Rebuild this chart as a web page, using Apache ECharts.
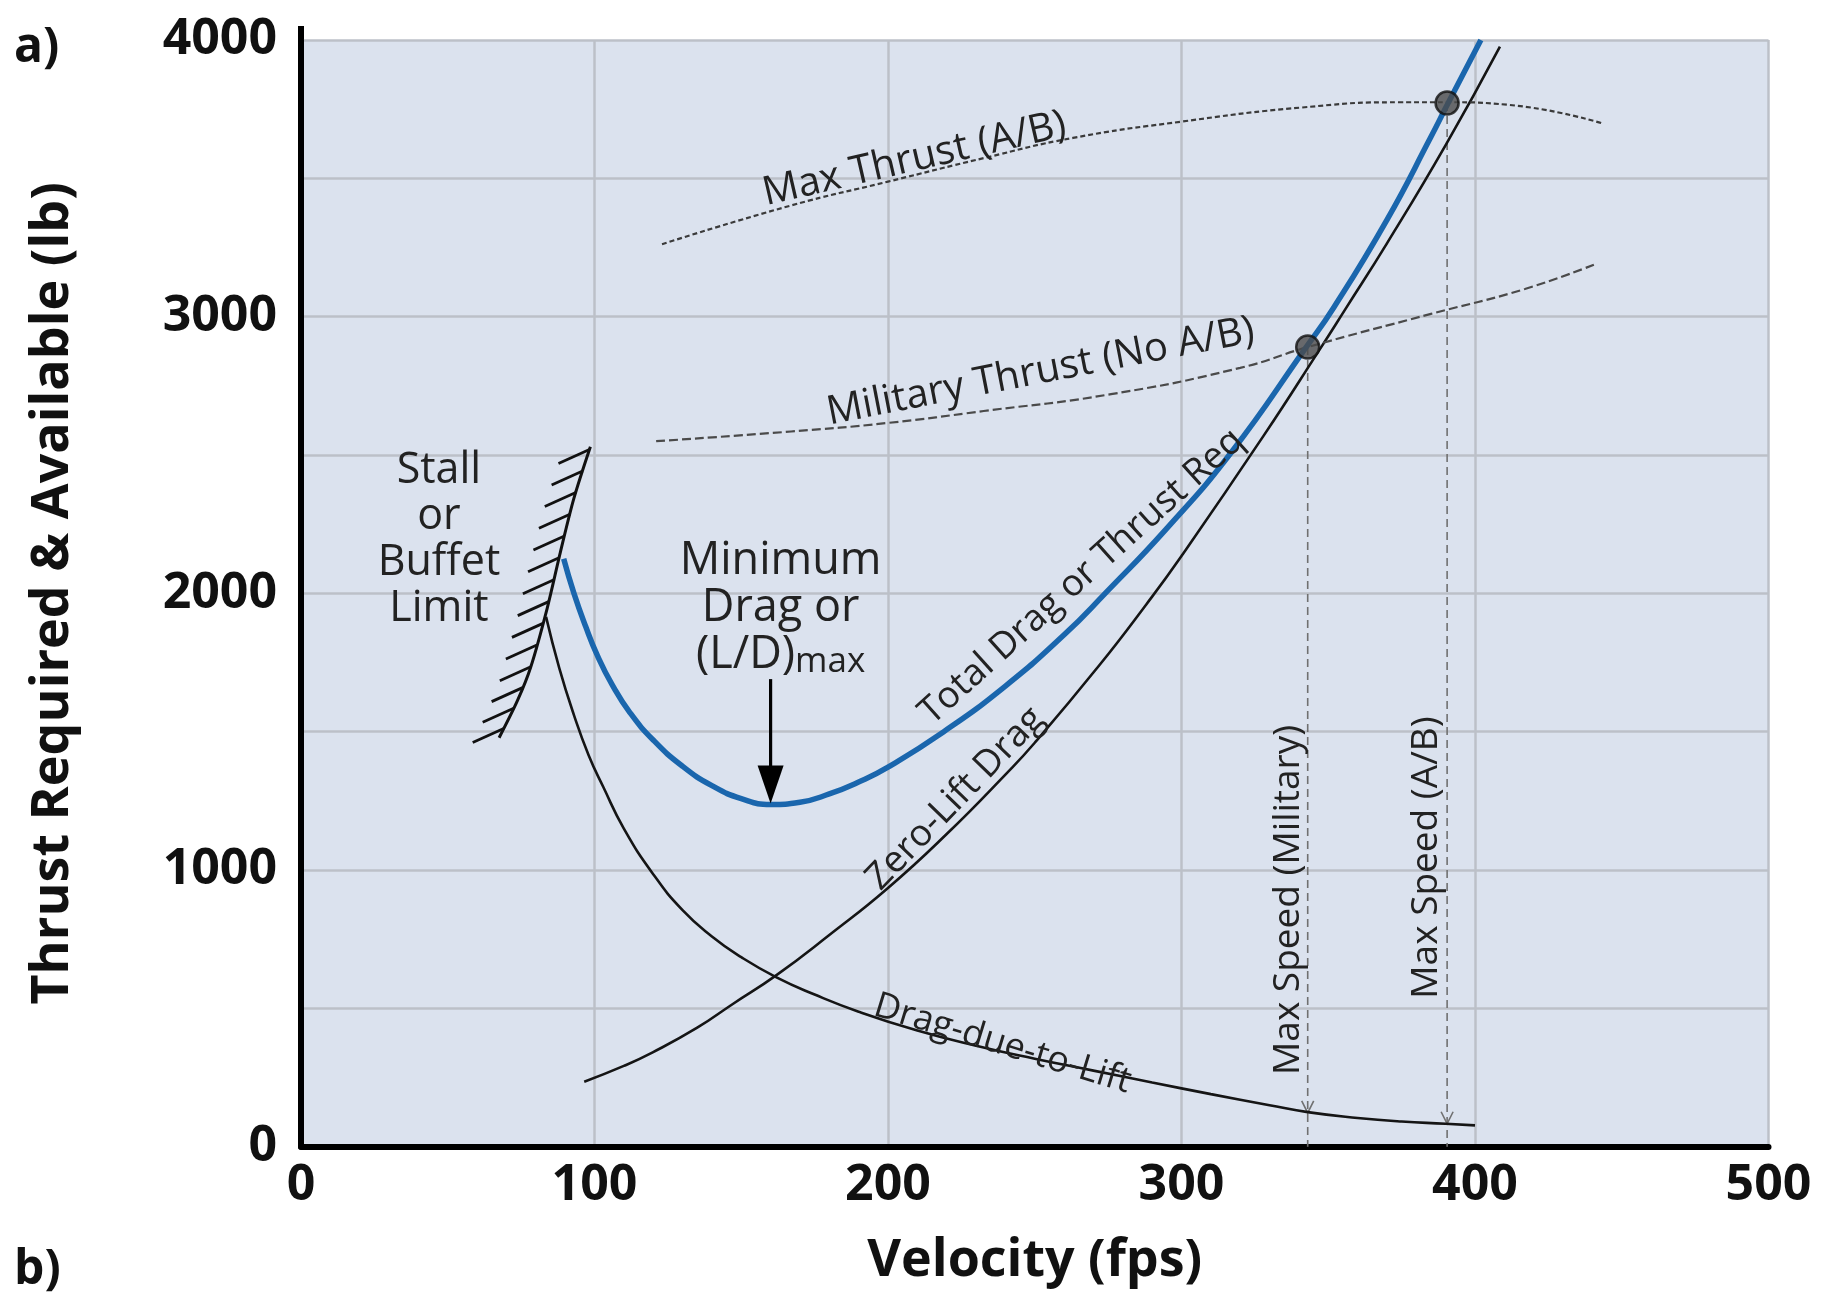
<!DOCTYPE html>
<html><head><meta charset="utf-8">
<script src="https://cdn.jsdelivr.net/npm/echarts@6/dist/echarts.min.js"></script>
<style>html,body{margin:0;padding:0;background:#fff;}#c{width:1821px;height:1293px;}</style>
</head><body><div id="c"></div>
<script>
// ---- data (velocity fps, thrust lb) ----
const totalDragV = [89.5, 93, 97, 101, 106, 112, 120, 130, 140, 150, 160, 170, 180, 190, 200, 219, 240, 260, 274, 295, 317, 342.5, 352, 370, 385, 390.5, 402];
const totalDragT = [2125, 2000, 1880, 1775, 1670, 1570, 1470, 1375, 1305, 1258, 1237, 1245, 1275, 1318, 1372, 1500, 1665, 1850, 2000, 2235, 2510, 2890, 3035, 3350, 3650, 3765, 4000];
const zeroLiftV = [96.5, 110, 120, 135, 147, 162, 180, 200, 220, 240, 250, 272, 288, 300, 328, 347, 356, 370, 390, 408.5];
const zeroLiftT = [235, 292, 342, 430, 515, 620, 765, 935, 1130, 1345, 1460, 1740, 1960, 2135, 2570, 2880, 3030, 3265, 3620, 3976];
const ddlV = [83.5, 88, 93, 98, 103, 110, 120, 130, 140, 150, 162, 175, 190, 210, 230, 250, 270, 290, 310, 330, 343, 360, 375, 390, 400];
const ddlT = [1915, 1730, 1560, 1415, 1300, 1150, 985, 855, 760, 685, 612, 550, 488, 420, 365, 318, 275, 232, 190, 150, 125, 104, 91, 83, 77];
const maxThrustV = [123, 167, 200, 232.6, 263, 300, 341, 374, 391, 411, 443];
const maxThrustT = [3262, 3402, 3488, 3573, 3646, 3705, 3756, 3775, 3775, 3766, 3700];
const milThrustV = [121, 167, 200, 232.6, 276, 320, 343, 385, 417, 441];
const milThrustT = [2550, 2585, 2616, 2659, 2720, 2815, 2890, 3010, 3100, 3190];
const stallV = [67.5, 73.7, 78.2, 83.9, 88.4, 93, 98.6];
const stallT = [1478, 1611, 1731, 1947, 2150, 2344, 2530];
const maxSpeedV = [343, 390.5];        // Military, A/B
const maxSpeedThrust = [2890, 3772];   // intersection points
const maxSpeedDdl = [122, 83];         // drag-due-to-lift at those speeds
const minDragV = 160;
const minDragArrowT = [1690, 1240];
const xTicks = [0, 100, 200, 300, 400, 500];
const yTickLabels = [0, 1000, 2000, 3000, 4000];

const labelText = ['Max Thrust (A/B)', 'Military Thrust (No A/B)', 'Total Drag or Thrust Req', 'Zero-Lift Drag', 'Drag-due-to-Lift', 'Max Speed (Military)', 'Max Speed (A/B)'];
const labelV = [209, 252, 266, 223, 239, 336.4, 383.5];
const labelT = [3569, 2801, 2060, 1258, 371, 892, 1045];
const labelAngle = [13, 11, 42, 46, -17, 90, 90];
const labelSize = [40, 40, 37, 37, 36, 37, 37];

const FONT = '"Open Sans", "Noto Sans", sans-serif';
const zip = (a, b) => a.map((v, i) => [v, b[i]]);
const chart = echarts.init(document.getElementById('c'));

function lineSeries(name, v, t, color, width, dash, z) {
  return {
    name, type: 'line', data: zip(v, t), smooth: 0.5, symbol: 'none', z: z || 5,
    lineStyle: { color, width, type: dash || 'solid' }, silent: true
  };
}

const option = {
  animation: false,
  backgroundColor: '#ffffff',
  grid: { left: 301, right: 52.5, top: 40, bottom: 146.3, show: true, backgroundColor: '#dbe2ee', borderWidth: 0, outerBoundsMode: 'none' },
  xAxis: {
    type: 'value', min: 0, max: 500, interval: 100,
    name: 'Velocity (fps)', nameLocation: 'middle', nameGap: 88,
    nameTextStyle: { fontFamily: FONT, fontWeight: 'bold', fontSize: 52, color: '#111' },
    axisLine: { show: true, onZero: false, lineStyle: { color: '#000', width: 6 } },
    axisTick: { show: false },
    splitLine: { show: true, lineStyle: { color: '#bcc0c8', width: 2.5 } },
    axisLabel: { margin: 14, fontFamily: FONT, fontWeight: 'bold', fontSize: 50, color: '#111',
      formatter: v => xTicks.includes(v) ? String(v) : '' }
  },
  yAxis: {
    type: 'value', min: 0, max: 4000, interval: 500,
    name: 'Thrust Required & Available (lb)', nameLocation: 'middle', nameGap: 222,
    nameTextStyle: { fontFamily: FONT, fontWeight: 'bold', fontSize: 52, color: '#111' },
    axisLine: { show: true, onZero: false, lineStyle: { color: '#000', width: 6 } },
    axisTick: { show: false },
    splitLine: { show: true, lineStyle: { color: '#bcc0c8', width: 2.5 } },
    axisLabel: { margin: 24, fontFamily: FONT, fontWeight: 'bold', fontSize: 50, color: '#111', padding: [0, 0, 12, 0],
      formatter: v => yTickLabels.includes(v) ? String(v) : '' }
  },
  graphic: [
    { type: 'text', left: 14, top: 24, style: { text: 'a)', fontFamily: FONT, fontWeight: 'bold', fontSize: 48, fill: '#111' } },
    { type: 'text', left: 14, top: 1246, style: { text: 'b)', fontFamily: FONT, fontWeight: 'bold', fontSize: 48, fill: '#111' } },
    { type: 'line', shape: { x1: 301, y1: 26, x2: 301, y2: 42 }, style: { stroke: '#000', lineWidth: 6 } }
  ],
  series: [
    lineSeries('Zero-Lift Drag', zeroLiftV, zeroLiftT, '#151515', 2.6),
    lineSeries('Drag-due-to-Lift', ddlV, ddlT, '#151515', 2.6),
    lineSeries('Max Thrust (A/B)', maxThrustV, maxThrustT, '#3a3a3a', 2.2, [5, 3]),
    lineSeries('Military Thrust', milThrustV, milThrustT, '#4a4a4a', 2.2, [9, 4]),
    lineSeries('Total Drag', totalDragV, totalDragT, '#1a66ad', 5.5, null, 6),
    { // max speed verticals
      type: 'custom', coordinateSystem: 'cartesian2d', silent: true, z: 4,
      data: maxSpeedV.map((v, i) => [v, maxSpeedThrust[i]]),
      renderItem: (params, api) => {
        const i = params.dataIndex;
        const top = api.coord([maxSpeedV[i], maxSpeedThrust[i]]);
        const bot = api.coord([maxSpeedV[i], 0]);
        const mid = api.coord([maxSpeedV[i], maxSpeedDdl[i]]);
        return { type: 'group', children: [
          { type: 'line', shape: { x1: top[0], y1: top[1], x2: bot[0], y2: bot[1] },
            style: { stroke: '#707070', lineWidth: 1.6, lineDash: [8, 5] } },
          { type: 'polyline', shape: { points: [[mid[0] - 6, mid[1] - 12], [mid[0], mid[1]], [mid[0] + 6, mid[1] - 12]] },
            style: { stroke: '#707070', lineWidth: 1.6, fill: null } }
        ] };
      }
    },
    { // intersection dots
      type: 'scatter', data: zip(maxSpeedV, maxSpeedThrust), symbolSize: 23, z: 10, silent: true,
      itemStyle: { color: '#4b4b4b', borderColor: '#111', borderWidth: 2.5 }
    },
    { // stall / buffet limit with hatching
      type: 'custom', coordinateSystem: 'cartesian2d', silent: true, z: 7, clip: false,
      data: [[stallV[0], stallT[0]]],
      renderItem: (params, api) => {
        const pts = stallV.map((v, i) => api.coord([v, stallT[i]]));
        const children = [{ type: 'polyline', shape: { points: pts, smooth: 0.3 }, style: { stroke: '#111', lineWidth: 3, fill: null } }];
        const rev = pts.slice().reverse();
        const seg = [];
        let total = 0;
        for (let k = 1; k < rev.length; k++) {
          const L = Math.hypot(rev[k][0] - rev[k - 1][0], rev[k][1] - rev[k - 1][1]);
          seg.push(L); total += L;
        }
        const step = 22.5;
        for (let d = 3; d <= total + 0.1; d += step) {
          let acc = 0, k = 0;
          while (k < seg.length - 1 && acc + seg[k] < d) { acc += seg[k]; k++; }
          const f = Math.min(1, (d - acc) / seg[k]);
          const x = rev[k][0] + (rev[k + 1][0] - rev[k][0]) * f;
          const y = rev[k][1] + (rev[k + 1][1] - rev[k][1]) * f;
          children.push({ type: 'line', shape: { x1: x, y1: y, x2: x - 31, y2: y + 14 }, style: { stroke: '#111', lineWidth: 2.8 } });
        }
        return { type: 'group', children };
      }
    },
    { // minimum drag arrow
      type: 'custom', coordinateSystem: 'cartesian2d', silent: true, z: 8,
      data: [[minDragV, minDragArrowT[0]]],
      renderItem: (params, api) => {
        const a = api.coord([minDragV, minDragArrowT[0]]);
        const b = api.coord([minDragV, minDragArrowT[1]]);
        return { type: 'group', children: [
          { type: 'line', shape: { x1: a[0], y1: a[1], x2: b[0], y2: b[1] - 30 }, style: { stroke: '#000', lineWidth: 3.2 } },
          { type: 'polygon', shape: { points: [[b[0] - 13, b[1] - 38], [b[0] + 13, b[1] - 38], [b[0], b[1]]] }, style: { fill: '#000' } }
        ] };
      }
    },
    { // curve labels
      type: 'custom', coordinateSystem: 'cartesian2d', silent: true, z: 12, clip: false,
      data: labelV.map((v, i) => [v, labelT[i]]),
      renderItem: (params, api) => {
        const i = params.dataIndex;
        const p = api.coord([api.value(0), api.value(1)]);
        return { type: 'text', x: p[0], y: p[1], rotation: labelAngle[i] * Math.PI / 180,
          style: { text: labelText[i], fontFamily: FONT, fontSize: labelSize[i], fill: '#222', align: 'center', verticalAlign: 'middle' } };
      }
    },
    { // block annotations
      type: 'custom', coordinateSystem: 'cartesian2d', silent: true, z: 12, clip: false,
      data: [[47, 2193], [163.4, 1946]],
      renderItem: (params, api) => {
        const p = api.coord([api.value(0), api.value(1)]);
        if (params.dataIndex === 0) {
          return { type: 'text', x: p[0], y: p[1], style: { text: 'Stall\nor\nBuffet\nLimit', fontFamily: FONT, fontSize: 43, lineHeight: 46, fill: '#222', align: 'center', verticalAlign: 'middle' } };
        }
        return { type: 'text', x: p[0], y: p[1], style: {
          text: '{n|Minimum}\n{n|Drag or}\n{n|(L/D)}{s|max}', fontFamily: FONT, fill: '#222', align: 'center', verticalAlign: 'middle',
          rich: { n: { fontFamily: FONT, fontSize: 45, lineHeight: 47, fill: '#222' }, s: { fontFamily: FONT, fontSize: 35, lineHeight: 47, fill: '#222', padding: [14, 0, 0, 0] } } } };
      }
    }
  ]
};
chart.setOption(option);
</script></body></html>
